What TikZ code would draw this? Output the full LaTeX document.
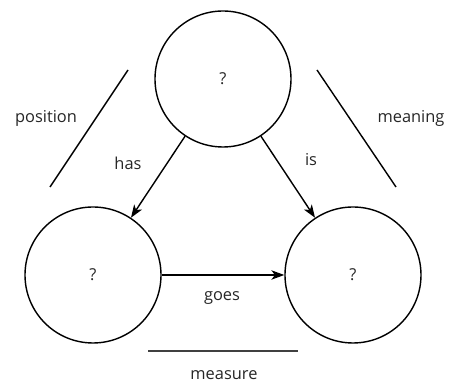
\documentclass[tikz,border=0pt]{standalone}
\usepackage{fontspec}
\setmainfont{Open Sans}
\usepackage{tikz}
\usetikzlibrary{arrows.meta}

\begin{document}
\begin{tikzpicture}
	\tikzset{thing/.style={draw,circle,line width=1.2pt,minimum size=4.08cm,inner sep=0pt}}
	\tikzset{word/.style={text=black!85,font=\fontsize{14}{16}\selectfont}}
	\tikzset{rel/.style={line width=1.2pt,-{Stealth[length=11pt,width=8pt,inset=3pt]}}}
	\tikzset{bar/.style={line width=1.2pt}}
	\useasboundingbox (0,0) rectangle (13.47,11.49);
	\node[thing,word] (what) at (6.69,9.12) {?};
	\node[thing,word] (from) at (2.79,3.24) {?};
	\node[thing,word] (to) at (10.59,3.24) {?};
	\draw[rel] (what) -- (from);
	\draw[rel] (what) -- (to);
	\draw[rel] (from) -- (to);
	\node[word] (has) at (3.84,6.60) {has};
	\node[word] (is) at (9.33,6.69) {is};
	\node[word] (goes) at (6.66,2.55) {goes};
	% the three framing strokes
	\coordinate (posA) at (3.84,9.39);
	\coordinate (posB) at (1.50,5.88);
	\coordinate (meanA) at (9.51,9.39);
	\coordinate (meanB) at (11.88,5.88);
	\coordinate (measA) at (4.44,0.96);
	\coordinate (measB) at (8.94,0.96);
	\draw[bar] (posA) -- (posB);
	\draw[bar] (meanA) -- (meanB);
	\draw[bar,black!75] (measA) -- (measB);
	\node[word] (position) at (1.38,7.95) {position};
	\node[word] (meaning) at (12.33,7.95) {meaning};
	\node[word] (measure) at (6.72,0.24) {measure};
\end{tikzpicture}
\end{document}
